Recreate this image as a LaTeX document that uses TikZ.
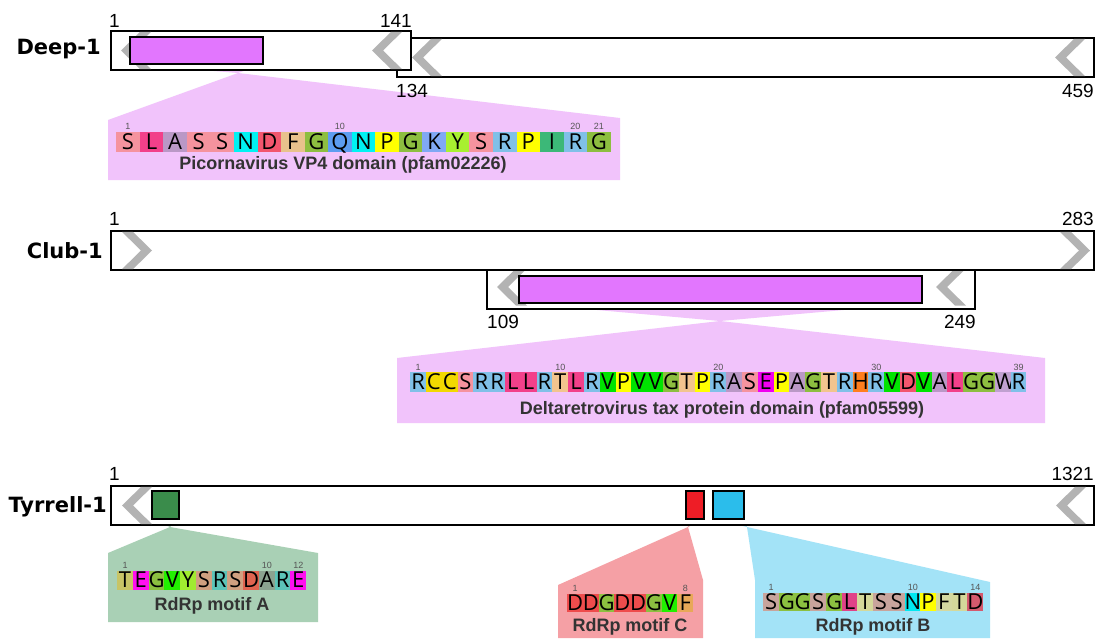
\documentclass[tikz,border=0pt]{standalone}
\usepackage{fontspec}
\setmainfont{Liberation Sans}
\newfontfamily\genefont{DejaVu Sans}
\newfontfamily\resfont{Open Sans}
\usetikzlibrary{positioning}

\definecolor{chevgray}{HTML}{B3B3B3}
\definecolor{domviolet}{HTML}{E276FE}
\definecolor{vppink}{HTML}{F1C3FB}
\definecolor{apanel}{HTML}{A9D0B5}
\definecolor{cpanel}{HTML}{F5A0A5}
\definecolor{bpanel}{HTML}{A3E3F7}
\definecolor{motifA}{HTML}{3A8C4B}
\definecolor{motifC}{HTML}{EE1D26}
\definecolor{motifB}{HTML}{2BBDEB}
\definecolor{capgray}{HTML}{333333}
\definecolor{numgray}{HTML}{555555}
% residue colours, pfam panels
\definecolor{aS}{HTML}{F5939E}
\definecolor{aL}{HTML}{F2408A}
\definecolor{aA}{HTML}{BA98C6}
\definecolor{aN}{HTML}{00F2F2}
\definecolor{aD}{HTML}{F2566E}
\definecolor{aF}{HTML}{E8C28C}
\definecolor{aG}{HTML}{8DBE40}
\definecolor{aQ}{HTML}{5C9CF0}
\definecolor{aP}{HTML}{FFFF00}
\definecolor{aK}{HTML}{80A8F4}
\definecolor{aY}{HTML}{A8F030}
\definecolor{aR}{HTML}{80C0E8}
\definecolor{aI}{HTML}{3CB878}
\definecolor{aC}{HTML}{F2D800}
\definecolor{aT}{HTML}{F2C48E}
\definecolor{aV}{HTML}{00E400}
\definecolor{aE}{HTML}{F000F0}
\definecolor{aH}{HTML}{FF7E1E}
\definecolor{aW}{HTML}{C0A0D0}
% residue colours, RdRp motifs
\definecolor{tT}{HTML}{C8C466}
\definecolor{tTb}{HTML}{D4D89A}
\definecolor{tE}{HTML}{FF10F0}
\definecolor{tG}{HTML}{8CC040}
\definecolor{tV}{HTML}{22F000}
\definecolor{tY}{HTML}{A0EC30}
\definecolor{tS}{HTML}{D0A080}
\definecolor{tSb}{HTML}{C8A49C}
\definecolor{tR}{HTML}{5CC4B8}
\definecolor{tD}{HTML}{E06450}
\definecolor{tDc}{HTML}{EE4C4C}
\definecolor{tDb}{HTML}{D45A6E}
\definecolor{tA}{HTML}{8BA390}
\definecolor{tF}{HTML}{E8A858}
\definecolor{tFb}{HTML}{D4D8A0}
\definecolor{tL}{HTML}{E04288}
\definecolor{tN}{HTML}{00E8F0}
\definecolor{tP}{HTML}{FFFF00}

% one row of coloured residues: prefix, x, y, cell width, cell height, residues
\newcommand{\seqrow}[6]{%
  \foreach \aa/\col [count=\i] in {#6}
    \node[res, fill=\col, minimum width=#4pt, minimum height=#5pt] (#1\i) at ({#2+(\i-1)*#4},#3) {\aa};
}
% grey strand chevrons, tip at (x,y)
\newcommand{\chevl}[2]{\fill[chev] (#1,#2) -- ++(19,-18.6) -- ++(11,0) -- ++(-19,18.6) -- ++(19,18.6) -- ++(-11,0) -- cycle;}
\newcommand{\chevr}[2]{\fill[chev] (#1,#2) -- ++(-19,-18.6) -- ++(-11,0) -- ++(19,18.6) -- ++(-19,18.6) -- ++(11,0) -- cycle;}

\begin{document}
\begin{tikzpicture}[x=1pt, y=-1pt,
  bar/.style={draw=black, line width=1.4pt, fill=white},
  dom/.style={draw=black, line width=1.4pt, fill=domviolet},
  chev/.style={fill=chevgray},
  res/.style={anchor=north west, inner sep=0pt, text height=15.5pt, text depth=0pt,
    font=\resfont\fontsize{22}{22}\selectfont},
  num/.style={inner sep=0.5pt, text=numgray, font=\fontsize{9}{9}\selectfont},
  endnum/.style={inner sep=0pt, font=\fontsize{19}{19}\selectfont},
  gene/.style={anchor=base east, inner sep=0pt, font=\genefont\bfseries\fontsize{21}{21}\selectfont},
  capt/.style={inner sep=0pt, text=capgray, font=\bfseries\fontsize{18}{18}\selectfont}]
  \useasboundingbox (0,0) rectangle (1100,638);
  \fill[white] (0,0) rectangle (1100,638);

  % Deep-1
  \fill[vppink] (130,64) -- (263,64) -- (238,73) -- cycle;
  \fill[vppink] (238,73) -- (620,118) -- (620,180) -- (108,180) -- (108,120) -- cycle;
  \draw[bar] (397,38) rectangle (1094,77);
  \chevl{412}{57.5} \chevl{1055}{57.5}
  \draw[bar] (111,31) rectangle (411,70);
  \chevl{121}{50.5} \chevl{372}{50.5}
  \draw[dom] (130,37) rectangle (263,64);
  \node[gene] (deep) at (101,54) {Deep-1};
  \node[endnum, anchor=base west] (deepa) at (109,27) {1};
  \node[endnum, anchor=base east] (deepb) at (412,27) {141};
  \node[endnum, anchor=base west] (deepc) at (396,97) {134};
  \node[endnum, anchor=base east] (deepd) at (1094,97) {459};
  \seqrow{vp}{116}{131.5}{23.55}{20}{S/aS,L/aL,A/aA,S/aS,S/aS,N/aN,D/aD,F/aF,G/aG,Q/aQ,N/aN,P/aP,G/aG,K/aK,Y/aY,S/aS,R/aR,P/aP,I/aI,R/aR,G/aG}
  \node[num, above=1pt of vp1] {1};
  \node[num, above=1pt of vp10] {10};
  \node[num, above=1pt of vp20] {20};
  \node[num, above=1pt of vp21] {21};
  \node[capt] (vpcap) at (343,165) {Picornavirus VP4 domain (pfam02226)};

  % Club-1
  \fill[vppink] (519,303) -- (922,303) -- (720,321) -- cycle;
  \fill[vppink] (720,321) -- (1045,358) -- (1045,423) -- (397,423) -- (397,358) -- cycle;
  \draw[bar] (487,265) rectangle (975,309);
  \chevl{497}{287} \chevl{936}{287}
  \draw[bar] (111,231) rectangle (1094,270);
  \chevr{152}{250.5} \chevr{1090}{250.5}
  \draw[dom] (519,276) rectangle (922,303);
  \node[gene] (club) at (103,258) {Club-1};
  \node[endnum, anchor=base west] (cluba) at (109,225) {1};
  \node[endnum, anchor=base east] (clubb) at (1094,225) {283};
  \node[endnum, anchor=base west] (clubc) at (487,328) {109};
  \node[endnum, anchor=base east] (clubd) at (976,328) {249};
  \seqrow{tax}{410}{372}{15.8}{20}{R/aR,C/aC,C/aC,S/aS,R/aR,R/aR,L/aL,L/aL,R/aR,T/aT,L/aL,R/aR,V/aV,P/aP,V/aV,V/aV,G/aG,T/aT,P/aP,R/aR,A/aA,S/aS,E/aE,P/aP,A/aA,G/aG,T/aT,R/aR,H/aH,R/aR,V/aV,D/aD,V/aV,A/aA,L/aL,G/aG,G/aG,W/aW,R/aR}
  \node[num, above=1pt of tax1] {1};
  \node[num, above=1pt of tax10] {10};
  \node[num, above=1pt of tax20] {20};
  \node[num, above=1pt of tax30] {30};
  \node[num, above=1pt of tax39] {39};
  \node[capt] (taxcap) at (722,410) {Deltaretrovirus tax protein domain (pfam05599)};

  % Tyrrell-1
  \fill[apanel] (152,519) -- (179,519) -- (170,527) -- cycle;
  \fill[apanel] (170,527) -- (318,553) -- (318,622) -- (108,622) -- (108,553) -- cycle;
  \fill[cpanel] (686,519) -- (704,519) -- (688,527) -- cycle;
  \fill[cpanel] (688,527) -- (703,580) -- (703,638) -- (558,638) -- (558,585) -- cycle;
  \fill[bpanel] (713,519) -- (744,519) -- (747,527) -- cycle;
  \fill[bpanel] (747,527) -- (990,582) -- (990,638) -- (755,638) -- (755,580) -- cycle;
  \draw[bar] (111,486) rectangle (1094,525);
  \chevl{122}{505.5} \chevl{1056}{505.5}
  \draw[dom, fill=motifA] (152,491) rectangle (179,519);
  \draw[dom, fill=motifC] (686,491) rectangle (704,519);
  \draw[dom, fill=motifB] (713,491) rectangle (744,519);
  \node[gene] (tyrrell) at (107,512) {Tyrrell-1};
  \node[endnum, anchor=base west] (tyra) at (109,480) {1};
  \node[endnum, anchor=base east] (tyrb) at (1094,480) {1321};
  \seqrow{ma}{117}{570.5}{15.75}{19}{T/tT,E/tE,G/tG,V/tV,Y/tY,S/tS,R/tR,S/tS,D/tD,A/tA,R/tR,E/tE}
  \node[num, above=1pt of ma1] {1};
  \node[num, above=1pt of ma10] {10};
  \node[num, above=1pt of ma12] {12};
  \node[capt] (macap) at (212,606) {RdRp motif A};
  \seqrow{mc}{567}{593.5}{15.75}{18}{D/tDc,D/tDc,G/tG,D/tDc,D/tDc,G/tG,V/tV,F/tF}
  \node[num, above=1pt of mc1] {1};
  \node[num, above=1pt of mc8] {8};
  \node[capt] (mccap) at (630,627) {RdRp motif C};
  \seqrow{mb}{763}{592.5}{15.7}{18}{S/tSb,G/tG,G/tG,S/tSb,G/tG,L/tL,T/tTb,S/tSb,S/tSb,N/tN,P/tP,F/tFb,T/tTb,D/tDb}
  \node[num, above=1pt of mb1] {1};
  \node[num, above=1pt of mb10] {10};
  \node[num, above=1pt of mb14] {14};
  \node[capt] (mbcap) at (873,627) {RdRp motif B};
\end{tikzpicture}
\end{document}
